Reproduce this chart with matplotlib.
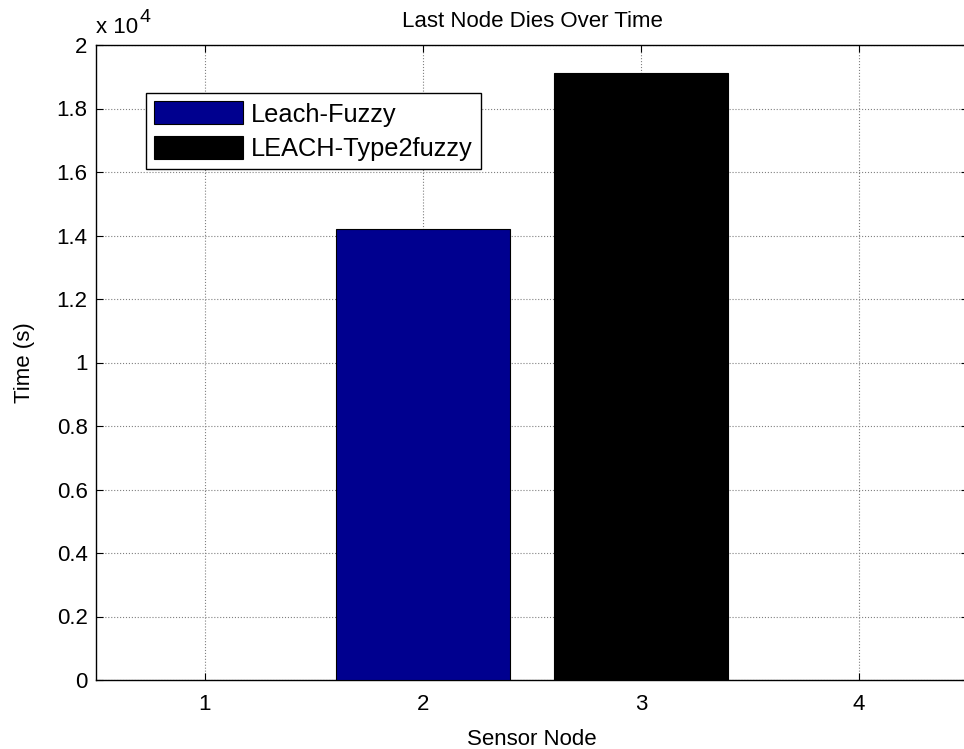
import matplotlib
matplotlib.use("Agg")
import matplotlib.pyplot as plt
from matplotlib.ticker import FuncFormatter, MultipleLocator
from matplotlib.patches import Rectangle
from matplotlib.legend_handler import HandlerPatch

plt.rcParams['font.family'] = ['Liberation Sans', 'DejaVu Sans']

positions = [2, 3]
values = [14200, 19120]
labels = ['Leach-Fuzzy', 'LEACH-Type2fuzzy']
colors = ['#00008f', '#000000']
xticks = [1, 2, 3, 4]

W, H = 964, 749
fig = plt.figure(figsize=(W/100, H/100), dpi=100)
ax = fig.add_axes([96/W, 1-680/H, 872/W, 635/H])

for p, v, lab, c in zip(positions, values, labels, colors):
    ax.bar(p, v, width=0.8, color=c, edgecolor='black', linewidth=0.8, label=lab, zorder=3)

ax.set_xlim(0.5, 4.5)
ax.set_ylim(0, 20000)
ax.set_xticks(xticks)
ax.yaxis.set_major_locator(MultipleLocator(2000))
ax.yaxis.set_major_formatter(FuncFormatter(lambda v, p: '%g' % (v/1e4)))
ax.grid(True, linestyle=':', color='#808080', linewidth=0.8, zorder=0)
ax.set_axisbelow(True)
ax.tick_params(direction='in', top=True, right=True, length=5, labelsize=16)
ax.tick_params(axis='x', pad=10)
ax.tick_params(axis='y', pad=6)
for s in ax.spines.values():
    s.set_linewidth(1.0)
ax.spines['right'].set_visible(False)

ax.set_title('Last Node Dies Over Time', fontsize=16, pad=13)
ax.set_xlabel('Sensor Node', fontsize=16, labelpad=10)
ax.set_ylabel('Time (s)', fontsize=16, labelpad=15.5)

# exponent label
fig.text(96/W, 1-33/H, 'x 10', fontsize=16, ha='left', va='baseline')
fig.text(140/W, 1-22/H, '4', fontsize=14, ha='left', va='baseline')

class OffsetRectHandler(HandlerPatch):
    def create_artists(self, legend, orig_handle, xdescent, ydescent, width, height, fontsize, trans):
        off = 7.5 * 72 / 100
        r = Rectangle((-xdescent + off, -ydescent), width - off, height,
                      facecolor=orig_handle.get_facecolor(), edgecolor='black', linewidth=0.8,
                      transform=trans)
        return [r]

handles, labs = ax.get_legend_handles_labels()
leg = ax.legend(handles, labs, loc='upper left',
                bbox_to_anchor=((146-96)/872, (680-93)/635), borderaxespad=0,
                fontsize=18.3, handlelength=3.48, handleheight=1.02, handletextpad=0.31,
                labelspacing=0.35, borderpad=0.33, fancybox=False, framealpha=1,
                edgecolor='black', handler_map={Rectangle: OffsetRectHandler()})
leg.get_frame().set_linewidth(1.0)

fig.savefig('out.png', dpi=100)
